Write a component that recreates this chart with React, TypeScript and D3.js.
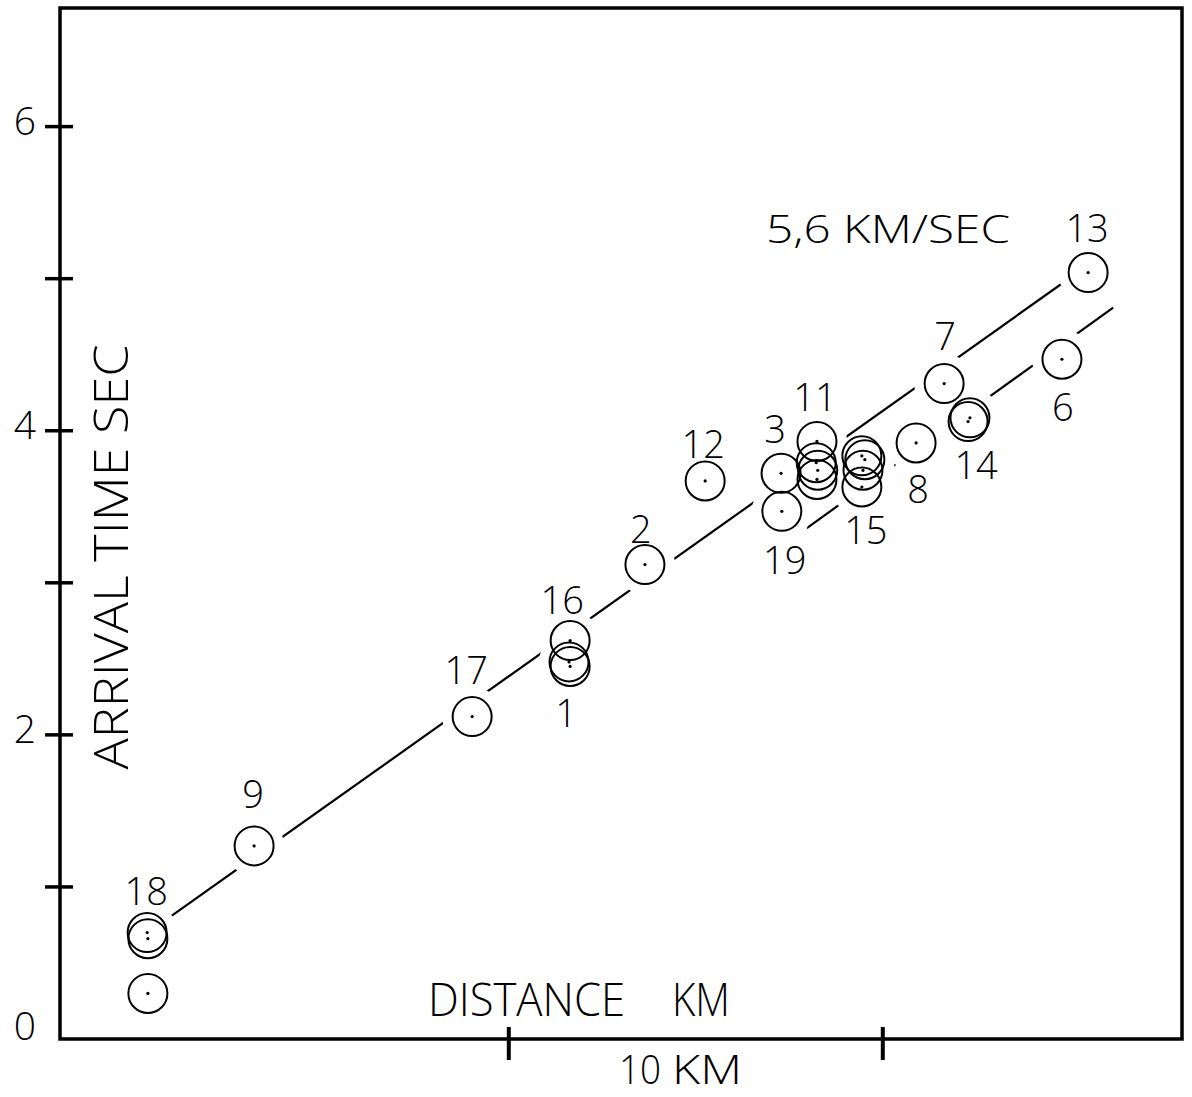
import React from "react";
import * as d3 from "d3";

const W = 1192;
const H = 1097;

// station id for every circle (some stations were plotted more than once)
const pointIds = ["18", "18", "18", "9", "17", "16", "1", "1", "2", "12", "3", "19", "11", "11", "11", "11", "15", "15", "15", "15", "8", "7", "14", "14", "6", "13"];
const distanceKm = [2.35, 2.33, 2.35, 5.19, 11.02, 13.64, 13.61, 13.64, 15.64, 17.25, 19.28, 19.3, 20.24, 20.22, 20.26, 20.24, 21.44, 21.52, 21.47, 21.44, 22.89, 23.64, 24.28, 24.33, 26.79, 27.49];
const arrivalSec = [0.3, 0.7, 0.66, 1.27, 2.12, 2.62, 2.48, 2.45, 3.12, 3.67, 3.72, 3.47, 3.93, 3.79, 3.74, 3.68, 3.835, 3.81, 3.74, 3.63, 3.92, 4.31, 4.06, 4.085, 4.47, 5.04];

// the two 5.6 km/sec lines (end points)
const upperLineKm = [2.35, 27.49];
const upperLineSec = [0.7, 5.09];
const lowerLineKm = [19.97, 28.16];
const lowerLineSec = [3.36, 4.81];
const upperGapIds = ["18", "9", "17", "16", "1", "2", "3", "19", "11", "7", "13"];
const lowerGapIds = ["19", "15", "8", "14", "6"];

const yTicks = [0, 1, 2, 3, 4, 5, 6];
const yTickLabels = ["0", "", "2", "", "4", "", "6"];
const xTicks = [12, 22];

// label placement: which circle, and offset of the text centre in px
const labelPoint = [1, 3, 4, 5, 7, 8, 9, 10, 11, 12, 19, 20, 22, 21, 24, 25];
const labelDx = [-1, -1, -6, -8, -4, -4, -2, -6, 3, -2, 4, 2, 8, 1, 1, -1];
const labelDy = [-41, -52, -46, -40, 47, -35, -37, -44, 49, -44, 43, 46, 44, -47, 48, -44];

const FONT = "'Open Sans', 'DejaVu Sans', sans-serif";

const x = d3.scaleLinear().domain([0, 30]).range([60, 1182]);
const y = d3.scaleLinear().domain([0, 6.78]).range([1039, 8]);

const line = d3
    .line<[number, number]>()
    .x((d) => x(d[0]))
    .y((d) => y(d[1]));

// hides a line where it runs under the circles of the given stations
const LineMask = ({ id, ids }: { id: string; ids: string[] }) => (
    <mask id={id} maskUnits="userSpaceOnUse" x={0} y={0} width={W} height={H}>
        <rect x={0} y={0} width={W} height={H} fill="white" />
        {pointIds.map((p, i) =>
            ids.includes(p) ? (
                <circle key={i} cx={x(distanceKm[i])} cy={y(arrivalSec[i])} r={30} fill="black" />
            ) : null
        )}
    </mask>
);

export default function App() {
    const upper: [number, number][] = upperLineKm.map((k, i) => [k, upperLineSec[i]]);
    const lower: [number, number][] = lowerLineKm.map((k, i) => [k, lowerLineSec[i]]);
    const fs = 38;

    return (
        <svg
            width={W}
            height={H}
            style={{ position: "absolute", left: 0, top: 0, background: "#fff" }}
            fontFamily={FONT}
            fontWeight={300}
        >
            <defs>
                <LineMask id="mUpper" ids={upperGapIds} />
                <LineMask id="mLower" ids={lowerGapIds} />
            </defs>

            {/* frame */}
            <rect x={60} y={8} width={1122} height={1031} fill="none" stroke="#000" strokeWidth={3.5} />

            {/* y ticks */}
            {yTicks.map((t, i) => (
                <g key={t}>
                    {t > 0 && <line x1={45} x2={73} y1={y(t)} y2={y(t)} stroke="#000" strokeWidth={3.5} />}
                    {yTickLabels[i] && (
                        <text x={36} y={Math.min(y(t) + 8, 1040)} textAnchor="end" fontSize={39}>
                            {yTickLabels[i]}
                        </text>
                    )}
                </g>
            ))}

            {/* x ticks */}
            {xTicks.map((t) => (
                <line key={t} x1={x(t)} x2={x(t)} y1={1027} y2={1060} stroke="#000" strokeWidth={4} />
            ))}

            {/* axis titles */}
            <text
                transform="translate(128,557) rotate(-90)"
                textAnchor="middle"
                fontSize={48}
                textLength={425}
                lengthAdjust="spacingAndGlyphs"
            >
                ARRIVAL TIME SEC
            </text>
            <text x={428} y={1016} fontSize={46} textLength={197} lengthAdjust="spacingAndGlyphs">
                DISTANCE
            </text>
            <text x={672} y={1016} fontSize={46} textLength={58} lengthAdjust="spacingAndGlyphs">
                KM
            </text>
            <text x={619} y={1084} fontSize={40} textLength={42} lengthAdjust="spacingAndGlyphs">
                10
            </text>
            <text x={672} y={1084} fontSize={40} textLength={70} lengthAdjust="spacingAndGlyphs">
                KM
            </text>
            <text x={766} y={243} fontSize={39} textLength={244} lengthAdjust="spacingAndGlyphs">
                5,6 KM/SEC
            </text>

            {/* lines */}
            <path d={line(upper) ?? ""} fill="none" stroke="#000" strokeWidth={2.2} mask="url(#mUpper)" />
            <path d={line(lower) ?? ""} fill="none" stroke="#000" strokeWidth={2.2} mask="url(#mLower)" />

            {/* stations */}
            {pointIds.map((p, i) => (
                <g key={i}>
                    <circle cx={x(distanceKm[i])} cy={y(arrivalSec[i])} r={19.5} fill="none" stroke="#000" strokeWidth={2} />
                    <circle cx={x(distanceKm[i])} cy={y(arrivalSec[i])} r={1.6} fill="#000" />
                </g>
            ))}

            {/* station labels */}
            {labelPoint.map((pi, j) => (
                <text
                    key={j}
                    x={x(distanceKm[pi]) + labelDx[j]}
                    y={y(arrivalSec[pi]) + labelDy[j] + fs * 0.36}
                    textAnchor="middle"
                    fontSize={fs}
                >
                    {pointIds[pi]}
                </text>
            ))}
        </svg>
    );
}
